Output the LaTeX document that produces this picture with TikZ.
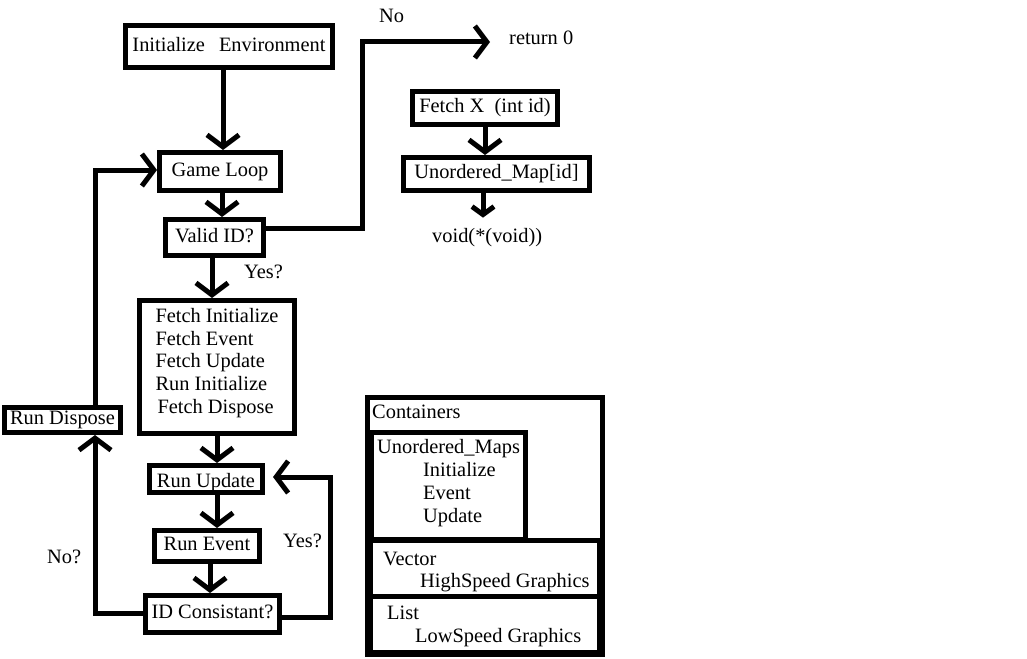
\documentclass[tikz,border=0pt]{standalone}
\usepackage{fontspec}
\setmainfont{Liberation Serif}
\usetikzlibrary{arrows.meta}
\newcommand\dfont{\fontsize{20.4}{22.6}\selectfont}
\begin{document}
\begin{tikzpicture}[x=1pt,y=-1pt,
  box/.style={draw, line width=5pt, inner sep=0pt, outer sep=2.5pt, text height=14pt, text depth=4.5pt, font=\dfont},
  arr/.style={line width=5pt, -{Straight Barb[length=12pt,width=32pt]}},
  smallarr/.style={line width=5pt, -{Straight Barb[length=8pt,width=22pt]}},
  cbox/.style={line width=5pt},
  lbl/.style={inner sep=0pt, anchor=base west, font=\dfont}]
\fill[white] (0,0) rectangle (1027,658);
\useasboundingbox (0,0) rectangle (1027,658);

% flowchart boxes
\node[box, minimum width=207pt, minimum height=42pt] (init) at (229,46.5) {Initialize\hspace{14pt}Environment};
\node[box, minimum width=121pt, minimum height=38pt] (gl) at (220,171.5) {Game Loop};
\node[box, minimum width=98pt, minimum height=36pt] (valid) at (214.5,237.5) {Valid ID?};
\node[box, minimum width=155pt, minimum height=133pt, align=left, text height=, text depth=] (fetch) at (217,367)
  {Fetch Initialize\\Fetch Event\\Fetch Update\\Run Initialize\\\hspace{2pt}Fetch Dispose\rule[-12.5pt]{0pt}{1pt}};
\node[box, minimum width=113pt, minimum height=27pt, text height=17pt, text depth=1pt] (ru) at (206,479) {Run Update};
\node[box, minimum width=105pt, minimum height=31pt] (re) at (207,546) {Run Event};
\node[box, minimum width=134pt, minimum height=37pt] (idc) at (212.5,614) {ID Consistant?};
\node[box, minimum width=116pt, minimum height=25pt] (rd) at (62.5,420) {Run Dispose};
\node[box, minimum width=145pt, minimum height=33pt] (fx) at (485,108) {Fetch X\ \ (int id)};
\node[box, minimum width=186pt, minimum height=33pt] (um) at (496.5,174) {Unordered\_Map[id]};

% free labels
\node[lbl] (no) at (379,23) {No};
\node[lbl] (ret) at (509,45) {return 0};
\node[lbl] (void) at (432,242) {void(*(void))};
\node[lbl] (yes1) at (244,278) {Yes?};
\node[lbl] (yes2) at (283,547) {Yes?};
\node[lbl] (no2) at (47,563) {No?};

% connectors
\coordinate (nocorner) at (362,42);
\coordinate (ycorner) at (330,477);
\coordinate (ncorner) at (95,613);
\draw[arr] ([xshift=3pt]gl.north |- init.south) -- ([xshift=3pt]gl.north);
\draw[arr] ([xshift=2pt]gl.south) -- ([xshift=2pt]gl.south |- valid.north);
\draw[arr, shorten >=19pt] ([yshift=9.5pt]valid.east) -| (nocorner) -- (ret.west |- nocorner);
\draw[arr] ([xshift=-2.5pt]valid.south) -- ([xshift=-2.5pt]valid.south |- fetch.north);
\draw[arr] (fetch.south) -- (fetch.south |- ru.north);
\draw[arr] ([xshift=11pt]ru.south) -- ([xshift=11pt]ru.south |- re.north);
\draw[arr] ([xshift=3pt]re.south) -- ([xshift=3pt]re.south |- idc.north);
\draw[arr, shorten >=8pt] ([yshift=-3pt]idc.east) -| (ycorner) -- (ru.east |- ycorner);
\draw[arr] ([yshift=1pt]idc.west) -- (ncorner) -- (ncorner |- rd.south);
\draw[arr] (ncorner |- rd.north) |- ([yshift=1.5pt]gl.west);
\draw[arr] (fx.south) -- (fx.south |- um.north);
\draw[smallarr, shorten >=10pt] ([xshift=-13.5pt]um.south) -- ([xshift=-13.5pt]um.south |- void.north);

% containers
\draw[cbox] (367.5,397.5) rectangle (602.5,654.5);
\draw[cbox] (371.5,432.5) rectangle (525,539.5);
\draw[cbox] (370.5,540.5) rectangle (599.5,596);
\draw[cbox] (370.5,596) rectangle (599.5,652.5);
\node[lbl] (ctitle) at (372,418) {Containers};
\node[lbl] (cum) at (377,453) {Unordered\_Maps};
\node[lbl] (cinit) at (423,476) {Initialize};
\node[lbl] (cevent) at (423,499) {Event};
\node[lbl] (cupdate) at (423,522) {Update};
\node[lbl] (cvec) at (383,565) {Vector};
\node[lbl] (chigh) at (420,587) {HighSpeed Graphics};
\node[lbl] (clist) at (387,619) {List};
\node[lbl] (clow) at (415,642) {LowSpeed Graphics};
\end{tikzpicture}
\end{document}
